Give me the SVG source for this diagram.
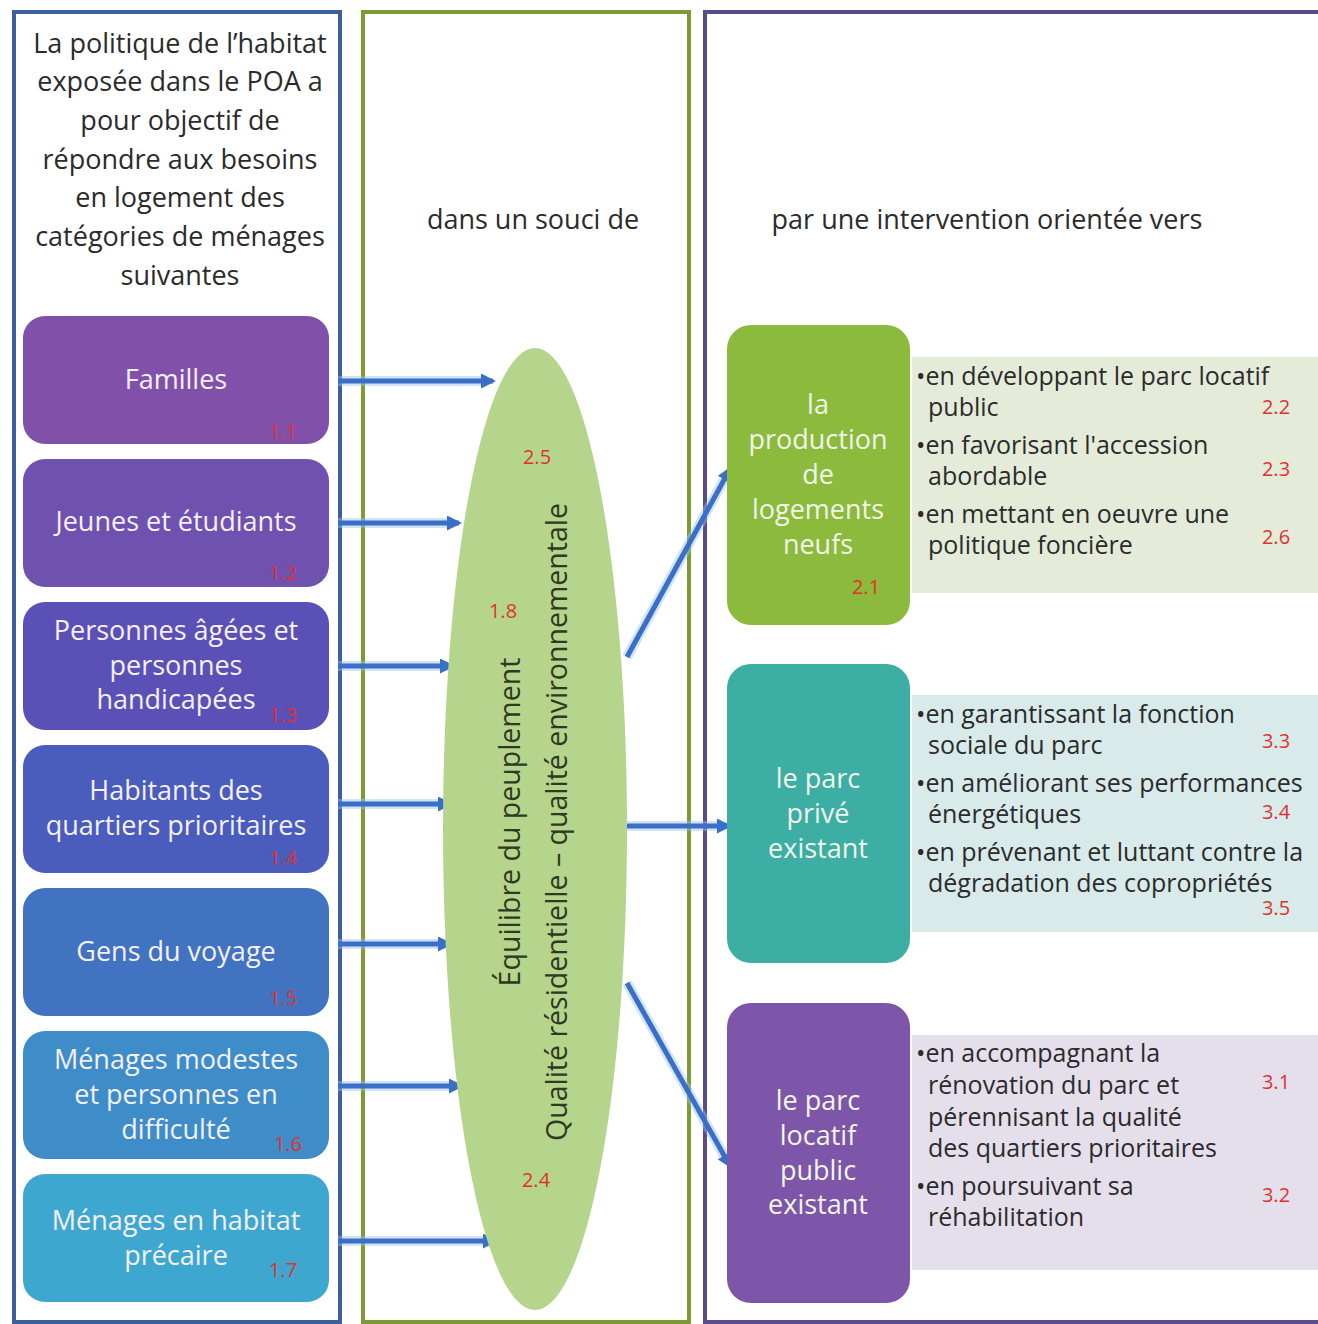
<svg xmlns="http://www.w3.org/2000/svg" width="1318" height="1324" viewBox="0 0 1318 1324">
  <defs>
    <style>
      .frame { fill: #ffffff; stroke-width: 4; }
      .title { font-family: "Open Sans", "Liberation Sans", sans-serif; font-size: 27px; fill: #2b2b2b; text-anchor: middle; }
      .cat { font-family: "Open Sans", "Liberation Sans", sans-serif; font-size: 27px; fill: #f4f0fa; text-anchor: middle; }
      .axis { font-family: "Open Sans", "Liberation Sans", sans-serif; font-size: 27px; fill: #f2f6ea; text-anchor: middle; }
      .item { font-family: "Open Sans", "Liberation Sans", sans-serif; font-size: 25px; fill: #2b2b2b; }
      .vert { font-family: "Open Sans", "Liberation Sans", sans-serif; font-size: 28.5px; fill: #2e3a22; text-anchor: middle; }
      .ref { font-family: "Open Sans", "Liberation Sans", sans-serif; font-size: 20px; fill: #e0312e; text-anchor: middle; }
      .link { stroke: #3a6fc7; stroke-width: 5; fill: none; marker-end: url(#head); }
      .glow { stroke: #9cc0ec; stroke-width: 10; fill: none; opacity: 0.45; }
    </style>
    <marker id="head" viewBox="0 0 10 10" refX="8" refY="5" markerWidth="3" markerHeight="3" orient="auto">
      <path d="M0,0 L10,5 L0,10 z" fill="#3a6fc7"/>
    </marker>
  </defs>

  <rect width="1318" height="1324" fill="#ffffff"/>

  <!-- column frames -->
  <g id="frames">
    <rect class="frame" x="14" y="12" width="326" height="1310" stroke="#3e5e9e"/>
    <rect class="frame" x="363" y="12" width="326" height="1310" stroke="#7b9c33"/>
    <rect class="frame" x="705" y="12" width="620" height="1310" stroke="#5a4b8c"/>
  </g>

  <!-- column headings -->
  <g id="heading-left">
    <text class="title" x="180" y="53">La politique de l’habitat</text>
    <text class="title" x="180" y="91">exposée dans le POA a</text>
    <text class="title" x="180" y="130">pour objectif de</text>
    <text class="title" x="180" y="169">répondre aux besoins</text>
    <text class="title" x="180" y="207">en logement des</text>
    <text class="title" x="180" y="246">catégories de ménages</text>
    <text class="title" x="180" y="285">suivantes</text>
  </g>
  <g id="heading-middle">
    <text class="title" x="533" y="229">dans un souci de</text>
  </g>
  <g id="heading-right">
    <text class="title" x="987" y="229">par une intervention orientée vers</text>
  </g>

  <!-- connectors -->
  <g id="connectors">
    <line class="glow" x1="338" y1="381" x2="486" y2="381"/>
    <line class="link" x1="338" y1="381" x2="493" y2="381"/>
    <line class="glow" x1="338" y1="523" x2="452" y2="523"/>
    <line class="link" x1="338" y1="523" x2="459" y2="523"/>
    <line class="glow" x1="338" y1="666" x2="448" y2="666"/>
    <line class="link" x1="338" y1="666" x2="452" y2="666"/>
    <line class="glow" x1="338" y1="804" x2="446" y2="804"/>
    <line class="link" x1="338" y1="804" x2="450" y2="804"/>
    <line class="glow" x1="338" y1="944" x2="446" y2="944"/>
    <line class="link" x1="338" y1="944" x2="450" y2="944"/>
    <line class="glow" x1="338" y1="1086" x2="454" y2="1086"/>
    <line class="link" x1="338" y1="1086" x2="461" y2="1086"/>
    <line class="glow" x1="338" y1="1241" x2="488" y2="1241"/>
    <line class="link" x1="338" y1="1241" x2="495" y2="1241"/>
    <line class="glow" x1="627" y1="657" x2="726" y2="476"/>
    <line class="link" x1="627" y1="657" x2="730" y2="469"/>
    <line class="glow" x1="627" y1="826" x2="722" y2="826"/>
    <line class="link" x1="627" y1="826" x2="729" y2="826"/>
    <line class="glow" x1="627" y1="983" x2="726" y2="1159"/>
    <line class="link" x1="627" y1="983" x2="730" y2="1166"/>
  </g>

  <!-- household categories -->
  <g id="cat-familles">
    <rect x="23" y="316" width="306" height="128" rx="22" fill="#8151a9"/>
    <text class="cat" x="176" y="389">Familles</text>
    <text class="ref" x="283" y="439">1.1</text>
  </g>
  <g id="cat-jeunes">
    <rect x="23" y="459" width="306" height="128" rx="22" fill="#6f51b0"/>
    <text class="cat" x="176" y="531">Jeunes et étudiants</text>
    <text class="ref" x="283" y="580">1.2</text>
  </g>
  <g id="cat-agees">
    <rect x="23" y="602" width="306" height="128" rx="22" fill="#5b50b6"/>
    <text class="cat" x="176" y="640">Personnes âgées et</text>
    <text class="cat" x="176" y="675">personnes</text>
    <text class="cat" x="176" y="709">handicapées</text>
    <text class="ref" x="283" y="722">1.3</text>
  </g>
  <g id="cat-quartiers">
    <rect x="23" y="745" width="306" height="128" rx="22" fill="#4a5dbc"/>
    <text class="cat" x="176" y="800">Habitants des</text>
    <text class="cat" x="176" y="835">quartiers prioritaires</text>
    <text class="ref" x="283" y="865">1.4</text>
  </g>
  <g id="cat-voyage">
    <rect x="23" y="888" width="306" height="128" rx="22" fill="#4273c1"/>
    <text class="cat" x="176" y="961">Gens du voyage</text>
    <text class="ref" x="283" y="1005">1.5</text>
  </g>
  <g id="cat-modestes">
    <rect x="23" y="1031" width="306" height="128" rx="22" fill="#3e8dc9"/>
    <text class="cat" x="176" y="1069">Ménages modestes</text>
    <text class="cat" x="176" y="1104">et personnes en</text>
    <text class="cat" x="176" y="1139">difficulté</text>
    <text class="ref" x="288" y="1151">1.6</text>
  </g>
  <g id="cat-precaire">
    <rect x="23" y="1174" width="306" height="128" rx="22" fill="#3ea7d0"/>
    <text class="cat" x="176" y="1230">Ménages en habitat</text>
    <text class="cat" x="176" y="1265">précaire</text>
    <text class="ref" x="283" y="1277">1.7</text>
  </g>

  <!-- central aim -->
  <g id="aim">
    <ellipse cx="535" cy="829" rx="92" ry="481" fill="#b6d58c"/>
    <text class="vert" x="520" y="822" transform="rotate(-90 520 822)">Équilibre du peuplement</text>
    <text class="vert" x="567" y="822" transform="rotate(-90 567 822)">Qualité résidentielle – qualité environnementale</text>
    <text class="ref" x="537" y="464">2.5</text>
    <text class="ref" x="503" y="618">1.8</text>
    <text class="ref" x="536" y="1187">2.4</text>
  </g>

  <!-- intervention: new housing -->
  <g id="axis-neuf">
    <rect x="727" y="325" width="183" height="300" rx="24" fill="#8cba3d"/>
    <text class="axis" x="818" y="414">la</text>
    <text class="axis" x="818" y="449">production</text>
    <text class="axis" x="818" y="484">de</text>
    <text class="axis" x="818" y="519">logements</text>
    <text class="axis" x="818" y="554">neufs</text>
    <text class="ref" x="866" y="594">2.1</text>
  </g>
  <g id="detail-neuf">
    <rect x="912" y="357" width="406" height="236" fill="#e5ebd9"/>
    <text class="item" x="916" y="385">•en développant le parc locatif</text>
    <text class="item" x="928" y="416">public</text>
    <text class="item" x="916" y="454">•en favorisant l'accession</text>
    <text class="item" x="928" y="485">abordable</text>
    <text class="item" x="916" y="523">•en mettant en oeuvre une</text>
    <text class="item" x="928" y="554">politique foncière</text>
    <text class="ref" x="1276" y="414">2.2</text>
    <text class="ref" x="1276" y="476">2.3</text>
    <text class="ref" x="1276" y="544">2.6</text>
  </g>

  <!-- intervention: private stock -->
  <g id="axis-prive">
    <rect x="727" y="664" width="183" height="299" rx="24" fill="#3daea3"/>
    <text class="axis" x="818" y="788">le parc</text>
    <text class="axis" x="818" y="823">privé</text>
    <text class="axis" x="818" y="858">existant</text>
  </g>
  <g id="detail-prive">
    <rect x="912" y="695" width="406" height="237" fill="#d9eaea"/>
    <text class="item" x="916" y="723">•en garantissant la fonction</text>
    <text class="item" x="928" y="754">sociale du parc</text>
    <text class="item" x="916" y="792">•en améliorant ses performances</text>
    <text class="item" x="928" y="823">énergétiques</text>
    <text class="item" x="916" y="861">•en prévenant et luttant contre la</text>
    <text class="item" x="928" y="892">dégradation des copropriétés</text>
    <text class="ref" x="1276" y="748">3.3</text>
    <text class="ref" x="1276" y="819">3.4</text>
    <text class="ref" x="1276" y="915">3.5</text>
  </g>

  <!-- intervention: public rental stock -->
  <g id="axis-public">
    <rect x="727" y="1003" width="183" height="300" rx="24" fill="#7e56a9"/>
    <text class="axis" x="818" y="1110">le parc</text>
    <text class="axis" x="818" y="1145">locatif</text>
    <text class="axis" x="818" y="1180">public</text>
    <text class="axis" x="818" y="1214">existant</text>
  </g>
  <g id="detail-public">
    <rect x="912" y="1035" width="406" height="235" fill="#e5dfeb"/>
    <text class="item" x="916" y="1062">•en accompagnant la</text>
    <text class="item" x="928" y="1094">rénovation du parc et</text>
    <text class="item" x="928" y="1126">pérennisant la qualité</text>
    <text class="item" x="928" y="1157">des quartiers prioritaires</text>
    <text class="item" x="916" y="1195">•en poursuivant sa</text>
    <text class="item" x="928" y="1226">réhabilitation</text>
    <text class="ref" x="1276" y="1089">3.1</text>
    <text class="ref" x="1276" y="1202">3.2</text>
  </g>
</svg>
